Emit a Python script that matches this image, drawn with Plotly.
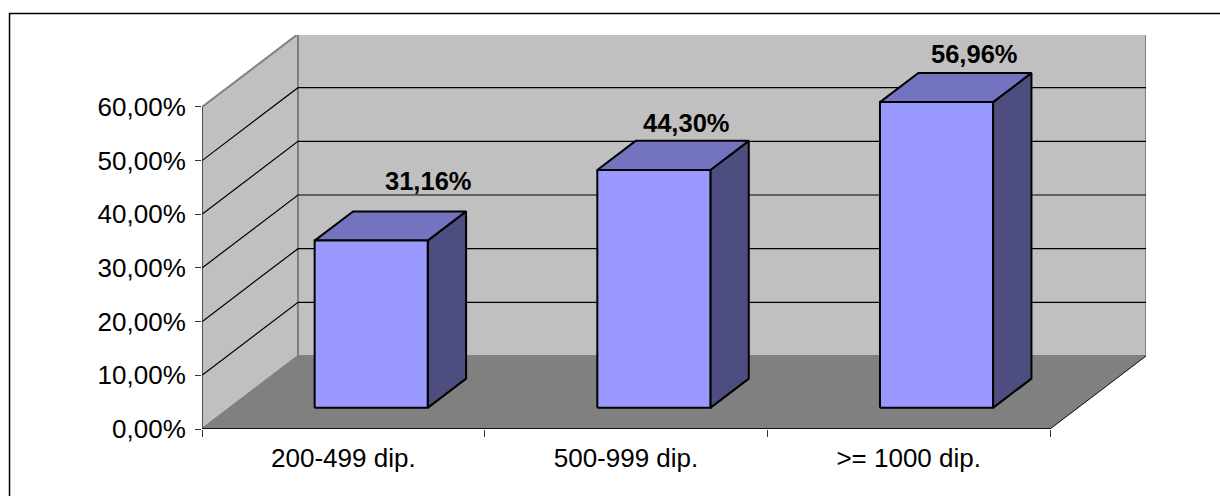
import plotly.graph_objects as go

# ---- data ----
categories = ["200-499 dip.", "500-999 dip.", ">= 1000 dip."]
values = [31.16, 44.30, 56.96]
value_labels = ["31,16%", "44,30%", "56,96%"]
ytick_vals = [0, 10, 20, 30, 40, 50, 60]
ytick_text = ["0,00%", "10,00%", "20,00%", "30,00%", "40,00%", "50,00%", "60,00%"]

# ---- styling / projection ----
FONT = "Liberation Sans, Arial, sans-serif"
DXU = 0.3396   # x-units of full depth
DYU = 13.60    # %-units of full depth
D0, D1 = 0.29, 0.69
BAR_W = 0.4
YMAX = 60
label_xshift = [19, -6, 0]
label_yshift = [30, 18, 19]


def P(x, y, d):
    return x + d * DXU, y + d * DYU


def poly(pts, fill, line_color, line_width):
    xs = [p[0] for p in pts] + [pts[0][0]]
    ys = [p[1] for p in pts] + [pts[0][1]]
    return go.Scatter(x=xs, y=ys, mode="lines", fill="toself", fillcolor=fill,
                      line=dict(color=line_color, width=line_width),
                      hoverinfo="skip", showlegend=False)


def line(pts, color, width):
    xs, ys = [], []
    for seg in pts:
        if seg is None:
            xs.append(None); ys.append(None)
        else:
            xs.append(seg[0]); ys.append(seg[1])
    return go.Scatter(x=xs, y=ys, mode="lines", line=dict(color=color, width=width),
                      hoverinfo="skip", showlegend=False)


n = len(categories)
fig = go.Figure()

# walls and floor
fig.add_trace(poly([P(0, 0, 0), P(0, YMAX, 0), P(0, YMAX, 1), P(0, 0, 1)], "#C0C0C0", "#808080", 2))
fig.add_trace(poly([P(0, 0, 1), P(n, 0, 1), P(n, YMAX, 1), P(0, YMAX, 1)], "#C0C0C0", "#808080", 2))
fig.add_trace(poly([P(0, 0, 0), P(n, 0, 0), P(n, 0, 1), P(0, 0, 1)], "#808080", "#808080", 0.5))

# gridlines
g = []
for v in ytick_vals[1:-1]:
    g += [P(0, v, 0), P(0, v, 1), P(n, v, 1), None]
fig.add_trace(line(g, "#000000", 1.2))

# floor edges and y axis line
fig.add_trace(line([P(0, 0, 0), P(n, 0, 0)], "#111111", 2))
fig.add_trace(line([P(n, 0, 0), P(n, 0, 1)], "#111111", 1))
fig.add_trace(line([P(0, 0, 0), P(0, YMAX, 0)], "#222222", 1))

# bars
for i, v in enumerate(values):
    c = i + 0.5
    x0, x1 = c - BAR_W / 2, c + BAR_W / 2
    fig.add_trace(poly([P(x1, 0, D0), P(x1, 0, D1), P(x1, v, D1), P(x1, v, D0)], "#4D4D80", "black", 2))
    fig.add_trace(poly([P(x0, v, D0), P(x1, v, D0), P(x1, v, D1), P(x0, v, D1)], "#7373BF", "black", 2))
    fig.add_trace(poly([P(x0, 0, D0), P(x1, 0, D0), P(x1, v, D0), P(x0, v, D0)], "#9999FF", "black", 2))
    lx, ly = P(c, v, D1)
    fig.add_annotation(x=lx, y=ly, text="<b>%s</b>" % value_labels[i], showarrow=False,
                       xanchor="center", yanchor="middle",
                       xshift=label_xshift[i], yshift=label_yshift[i],
                       font=dict(family=FONT, size=25.5, color="black"))

fig.update_layout(
    width=1220, height=496,
    margin=dict(l=202, r=74, t=35, b=67),
    paper_bgcolor="white", plot_bgcolor="white",
    showlegend=False,
    font=dict(family=FONT, size=26, color="black"),
    xaxis=dict(range=[0, n + DXU], showgrid=False, zeroline=False, showline=False,
               tickmode="array", tickvals=[i + 0.5 for i in range(n)], ticktext=categories,
               ticks="", ticklabelstandoff=11,
               minor=dict(tickmode="array", tickvals=list(range(n + 1)), ticks="outside",
                          ticklen=7, tickcolor="#333333", tickwidth=1, showgrid=False),
               fixedrange=True),
    yaxis=dict(range=[0, 73.41], showgrid=False, zeroline=False, showline=False,
               tickmode="array", tickvals=ytick_vals, ticktext=ytick_text,
               ticks="outside", ticklen=6, tickcolor="#333333", tickwidth=1,
               ticklabelstandoff=4, fixedrange=True),
    shapes=[dict(type="path", xref="paper", yref="paper",
                 path="M -0.2039,-0.2 L -0.2039,1.0546 L 1.085,1.0546",
                 line=dict(color="black", width=1.5), layer="above")],
)

fig.write_html("out.html")
